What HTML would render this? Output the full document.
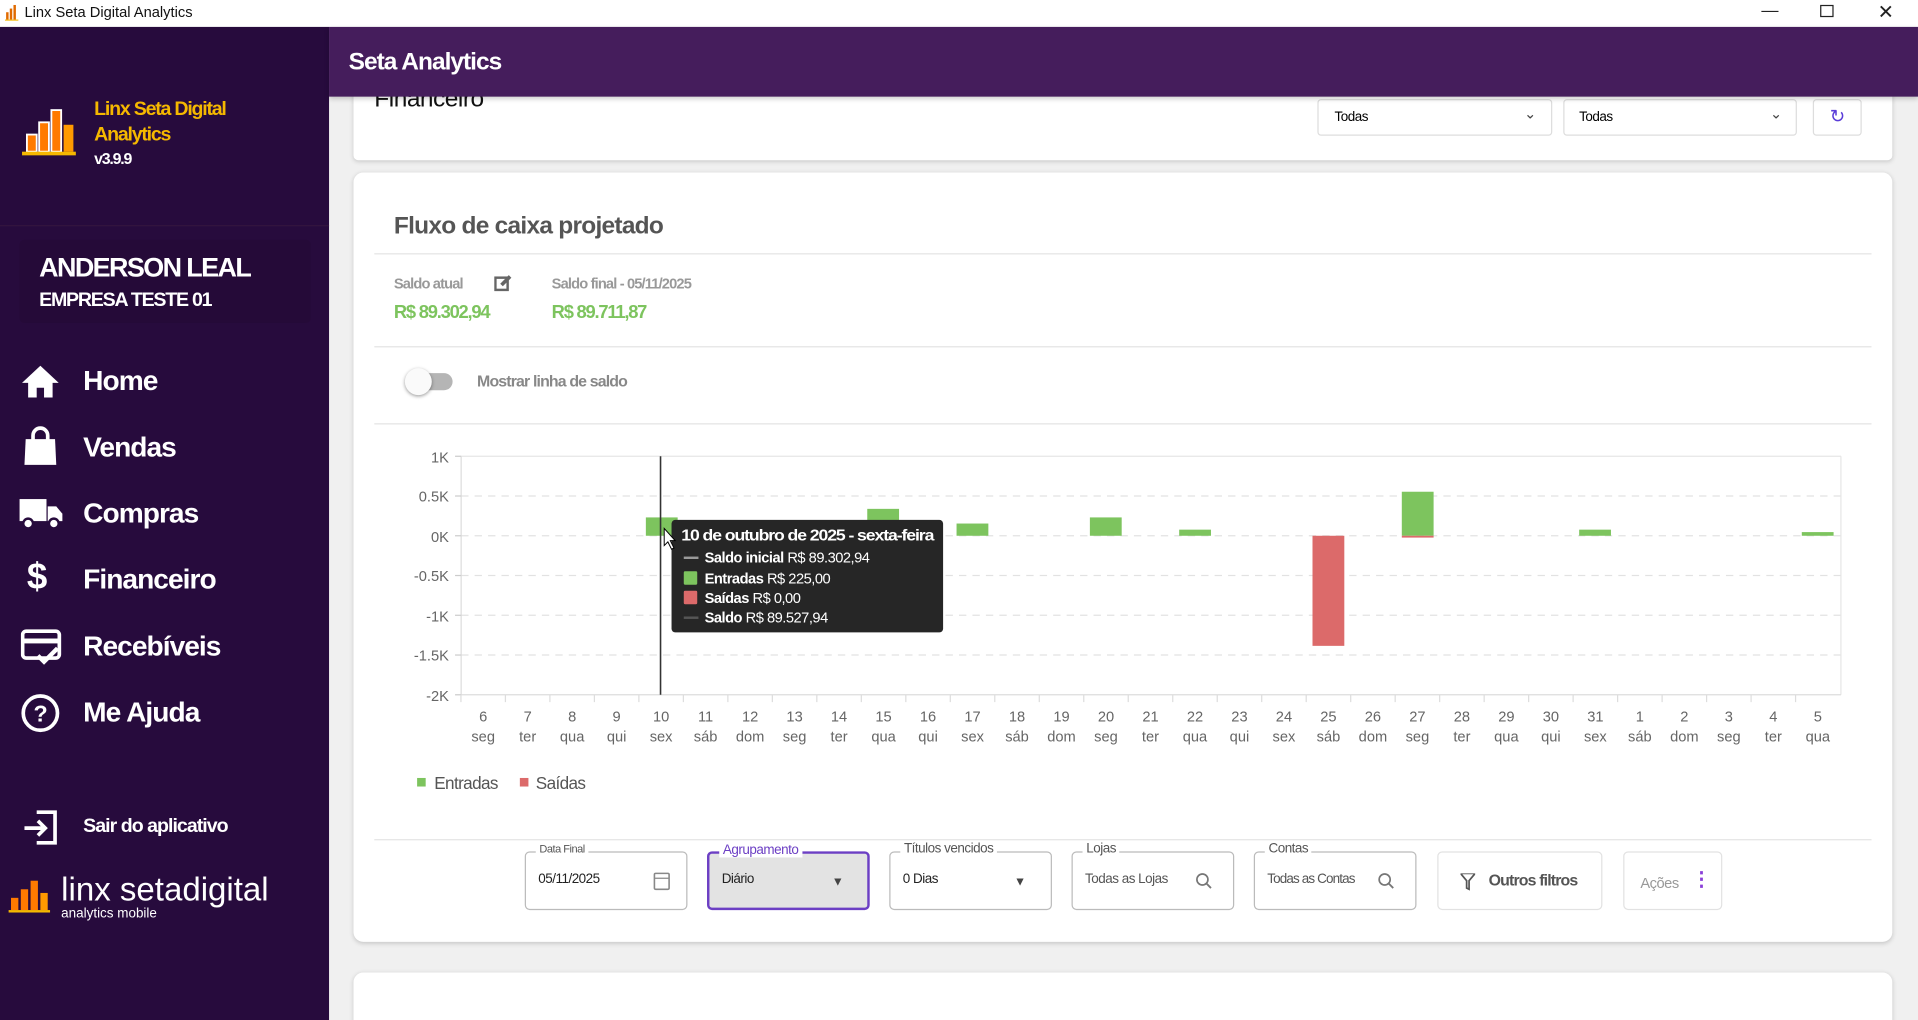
<!DOCTYPE html>
<html><head><meta charset="utf-8"><style>
*{box-sizing:border-box;margin:0;padding:0}
html,body{width:1918px;height:1020px;overflow:hidden;background:#f0f0f0}
#w{position:absolute;left:0;top:0;width:1568px;height:834px;transform:scale(1.22321);transform-origin:0 0;font-family:"Liberation Sans",sans-serif;background:#f0f0f0;overflow:hidden;letter-spacing:-0.4px}
.a{position:absolute;white-space:nowrap}
.card{position:absolute;background:#fff;border-radius:8px;box-shadow:0 1px 4px rgba(0,0,0,.18)}
.fld{position:absolute;top:696px;height:48px;width:133px;border:1px solid #bbb;border-radius:4px;background:#fff}
.fld .l{position:absolute;top:-8px;left:8px;background:#fff;padding:0 3px;font-size:11px;color:#555}
.fld .v{position:absolute;top:16px;left:10px;font-size:11px;color:#222}
.mi{position:absolute;left:68px;color:#fff;font-weight:bold;font-size:23px;letter-spacing:-0.8px}
</style></head><body><div id="w">
<div class="a" style="left:0;top:0;width:1568px;height:22px;background:#fff"></div>
<svg class="a" style="left:4px;top:4px" width="12" height="13"><rect x="1" y="6" width="2" height="6" fill="#e06a00"/><rect x="4" y="3" width="2" height="9" fill="#e06a00"/><rect x="7" y="0" width="2" height="12" fill="#e06a00"/><rect x="0" y="12" width="11" height="1" fill="#f5b800"/></svg>
<div class="a" style="left:20px;top:3px;font-size:12px;color:#111;letter-spacing:0">Linx Seta Digital Analytics</div>
<div class="a" style="left:1440px;top:0;font-size:14px;color:#222">—</div>
<div class="a" style="left:1488px;top:4px;width:11px;height:10px;border:1px solid #222"></div>
<div class="a" style="left:1535px;top:0;font-size:16px;color:#222">✕</div>
<div class="a" style="left:0;top:22px;width:269px;height:812px;background:#270b3d"></div>
<svg class="a" style="left:18px;top:88px" width="46" height="40"><rect x="4" y="22" width="8" height="14" fill="#ff7a00" stroke="#fff" stroke-width="1.5"/><rect x="14" y="12" width="8" height="24" fill="#ff7a00" stroke="#fff" stroke-width="1.5"/><rect x="24" y="2" width="8" height="34" fill="#ff7a00" stroke="#fff" stroke-width="1.5"/><rect x="34" y="14" width="8" height="22" fill="#ff9a00"/><rect x="0" y="36" width="44" height="3" fill="#f5b800"/></svg>
<div class="a" style="left:77px;top:79px;font-size:16px;font-weight:bold;color:#f5b800;line-height:21px;letter-spacing:-1px">Linx Seta Digital<br>Analytics</div>
<div class="a" style="left:77px;top:122px;font-size:13px;font-weight:bold;color:#fff;letter-spacing:-1px">v3.9.9</div>
<div class="a" style="left:0;top:184px;width:269px;height:1px;background:#34163f"></div>
<div class="a" style="left:16px;top:196px;width:238px;height:68px;background:#250a38;border-radius:4px"></div>
<div class="a" style="left:32px;top:206px;font-size:22px;font-weight:bold;color:#fff;letter-spacing:-1.3px">ANDERSON LEAL</div>
<div class="a" style="left:32px;top:237px;font-size:16px;font-weight:bold;color:#fff;letter-spacing:-1px">EMPRESA TESTE 01</div>
<svg class="a" style="left:17px;top:297px" width="32" height="30"><path d="M16 2 L31 16 H26 V28 H19 V20 H13 V28 H6 V16 H1 Z" fill="#fff"/></svg>
<div class="mi" style="top:298px">Home</div>
<svg class="a" style="left:18px;top:348px" width="30" height="34"><path d="M3 11 H27 L28 32 H2 Z" fill="#fff"/><path d="M9 13 V8 A6 6 0 0 1 21 8 V13" stroke="#fff" stroke-width="3" fill="none"/></svg>
<div class="mi" style="top:352px">Vendas</div>
<svg class="a" style="left:15px;top:406px" width="38" height="28"><rect x="1" y="2" width="22" height="18" fill="#fff"/><path d="M24 8 H31 L36 14 V20 H24 Z" fill="#fff"/><circle cx="8" cy="22" r="4" fill="#fff" stroke="#270b3d" stroke-width="2"/><circle cx="29" cy="22" r="4" fill="#fff" stroke="#270b3d" stroke-width="2"/></svg>
<div class="mi" style="top:406px">Compras</div>
<div class="a" style="left:22px;top:455px;font-size:30px;color:#fff;font-weight:bold">$</div>
<div class="mi" style="top:460px">Financeiro</div>
<svg class="a" style="left:17px;top:514px" width="34" height="30"><rect x="1.5" y="2" width="30" height="22" rx="3" fill="none" stroke="#fff" stroke-width="3"/><rect x="1" y="8" width="31" height="4" fill="#fff"/><path d="M14 22 L19 27 L30 16" stroke="#fff" stroke-width="3.5" fill="none"/></svg>
<div class="mi" style="top:515px">Recebíveis</div>
<svg class="a" style="left:17px;top:567px" width="32" height="32"><circle cx="16" cy="16" r="14" fill="none" stroke="#fff" stroke-width="3"/><text x="16" y="23" text-anchor="middle" fill="#fff" font-size="19" font-weight="bold" font-family="Liberation Sans">?</text></svg>
<div class="mi" style="top:569px">Me Ajuda</div>
<svg class="a" style="left:18px;top:662px" width="30" height="30"><path d="M12 2 H27 V27 H12" stroke="#fff" stroke-width="3" fill="none"/><path d="M2 15 H19 M13 9 L19 15 L13 21" stroke="#fff" stroke-width="3" fill="none"/></svg>
<div class="a" style="left:68px;top:667px;font-size:16px;font-weight:bold;color:#fff;letter-spacing:-0.8px">Sair do aplicativo</div>
<svg class="a" style="left:7px;top:718px" width="34" height="30"><rect x="2" y="16" width="6" height="10" fill="#ff7a00"/><rect x="10" y="9" width="6" height="17" fill="#ff7a00"/><rect x="18" y="2" width="6" height="24" fill="#ff7a00"/><rect x="26" y="12" width="6" height="14" fill="#ff9a00"/><rect x="0" y="26" width="34" height="2" fill="#f5b800"/></svg>
<div class="a" style="left:50px;top:712px;font-size:27px;color:#fff;letter-spacing:0">linx <span>seta</span>digital</div>
<div class="a" style="left:50px;top:741px;font-size:11px;color:#fff;letter-spacing:0">analytics mobile</div>
<div class="card" style="left:289px;top:60px;width:1258px;height:71px;border-radius:0 0 4px 4px"></div>
<div class="a" style="left:306px;top:70px;font-size:20px;color:#111">Financeiro</div>
<div class="a" style="left:1077px;top:81px;width:192px;height:30px;border:1px solid #ddd;border-radius:3px;background:#fff"><span class="a" style="left:13px;top:8px;font-size:11px">Todas</span><span class="a" style="left:168px;top:4px;font-size:12px;color:#444">⌄</span></div>
<div class="a" style="left:1278px;top:81px;width:191px;height:30px;border:1px solid #ddd;border-radius:3px;background:#fff"><span class="a" style="left:12px;top:8px;font-size:11px">Todas</span><span class="a" style="left:168px;top:4px;font-size:12px;color:#444">⌄</span></div>
<div class="a" style="left:1482px;top:81px;width:40px;height:30px;border:1px solid #ddd;border-radius:3px;background:#fff;color:#5a3dd8;font-size:15px;text-align:center;line-height:28px">↻</div>
<div class="a" style="left:269px;top:22px;width:1299px;height:57px;background:#451d5c;box-shadow:0 2px 4px rgba(0,0,0,.2)"></div>
<div class="a" style="left:285px;top:40px;font-size:20px;font-weight:bold;color:#fff;letter-spacing:-0.8px">Seta Analytics</div>
<div class="card" style="left:289px;top:141px;width:1258px;height:629px"></div>
<div class="a" style="left:322px;top:174px;font-size:20px;font-weight:bold;color:#555;letter-spacing:-0.6px">Fluxo de caixa projetado</div>
<div class="a" style="left:306px;top:207px;width:1224px;height:1px;background:#e4e4e4"></div>
<div class="a" style="left:322px;top:225px;font-size:12px;font-weight:bold;color:#999;letter-spacing:-0.7px">Saldo atual</div>
<svg class="a" style="left:404px;top:224px" width="15" height="15"><rect x="1" y="3" width="10" height="10" fill="none" stroke="#666" stroke-width="2"/><path d="M6 9 L13 2" stroke="#666" stroke-width="3"/></svg>
<div class="a" style="left:451px;top:225px;font-size:12px;font-weight:bold;color:#999;letter-spacing:-0.7px">Saldo final - 05/11/2025</div>
<div class="a" style="left:322px;top:247px;font-size:15px;font-weight:bold;color:#7dc45e;letter-spacing:-1px">R$ 89.302,94</div>
<div class="a" style="left:451px;top:247px;font-size:15px;font-weight:bold;color:#7dc45e;letter-spacing:-1px">R$ 89.711,87</div>
<div class="a" style="left:306px;top:283px;width:1224px;height:1px;background:#e4e4e4"></div>
<div class="a" style="left:334px;top:305px;width:36px;height:14px;border-radius:7px;background:#b5b5b5"></div>
<div class="a" style="left:331px;top:301px;width:22px;height:22px;border-radius:50%;background:#fafafa;box-shadow:0 1px 3px rgba(0,0,0,.4)"></div>
<div class="a" style="left:390px;top:304px;font-size:13px;font-weight:bold;color:#888;letter-spacing:-0.7px">Mostrar linha de saldo</div>
<div class="a" style="left:306px;top:346px;width:1224px;height:1px;background:#e4e4e4"></div>
<svg class="a" style="left:0;top:0;letter-spacing:0" width="1568" height="834" font-family="Liberation Sans, sans-serif">
<g stroke="#e2e2e2" stroke-dasharray="6,5"><line x1="377" x2="1505" y1="405.5" y2="405.5"/><line x1="377" x2="1505" y1="438" y2="438"/><line x1="377" x2="1505" y1="470.5" y2="470.5"/><line x1="377" x2="1505" y1="503" y2="503"/><line x1="377" x2="1505" y1="535.5" y2="535.5"/></g>
<line x1="377" x2="1505" y1="373" y2="373" stroke="#e6e6e6"/>
<line x1="1505" x2="1505" y1="373" y2="568" stroke="#e6e6e6"/>
<line x1="377" x2="1505" y1="568" y2="568" stroke="#ddd"/>
<line x1="377" x2="377" y1="373" y2="568" stroke="#ddd"/>
<g stroke="#ccc"><line x1="372" x2="377" y1="373" y2="373"/><line x1="372" x2="377" y1="405.5" y2="405.5"/><line x1="372" x2="377" y1="438" y2="438"/><line x1="372" x2="377" y1="470.5" y2="470.5"/><line x1="372" x2="377" y1="503" y2="503"/><line x1="372" x2="377" y1="535.5" y2="535.5"/><line x1="372" x2="377" y1="568" y2="568"/></g>
<g font-size="12" fill="#666" text-anchor="end"><text x="367" y="378">1K</text><text x="367" y="410">0.5K</text><text x="367" y="443">0K</text><text x="367" y="475">-0.5K</text><text x="367" y="508">-1K</text><text x="367" y="540">-1.5K</text><text x="367" y="573">-2K</text></g>
<g fill="#7dc45e">
<rect x="528" y="423" width="26" height="15"/>
<rect x="709" y="416" width="26" height="22"/>
<rect x="782" y="428" width="26" height="10"/>
<rect x="891" y="423" width="26" height="15"/>
<rect x="964" y="433" width="26" height="5"/>
<rect x="1146" y="402" width="26" height="36"/>
<rect x="1291" y="433" width="26" height="5"/>
<rect x="1473" y="435" width="26" height="3"/>
</g>
<rect x="1073" y="438" width="26" height="90" fill="#dc6a6a"/>
<rect x="1146" y="438" width="26" height="1.5" fill="#dc6a6a"/>
<line x1="540" x2="540" y1="373" y2="568" stroke="#333" stroke-width="1.3"/>
<g id="ticks" stroke="#ddd"></g>
<g font-size="12" fill="#666" text-anchor="middle" id="xl"></g>
<rect x="549" y="425" width="222" height="92" rx="3" fill="#262626"/>
<text x="557" y="442" fill="#fff" font-size="13" font-weight="bold" letter-spacing="-0.8" textLength="206" lengthAdjust="spacingAndGlyphs">10 de outubro de 2025 - sexta-feira</text>
<g font-size="12" fill="#fff" letter-spacing="-0.4">
<line x1="559" x2="571" y1="456" y2="456" stroke="#999" stroke-width="2"/><text x="576" y="460"><tspan font-weight="bold">Saldo inicial</tspan>  R$ 89.302,94</text>
<rect x="559" y="467" width="11" height="11" rx="1" fill="#7dc45e"/><text x="576" y="477"><tspan font-weight="bold">Entradas</tspan>  R$ 225,00</text>
<rect x="559" y="483" width="11" height="11" rx="1" fill="#dc6a6a"/><text x="576" y="493"><tspan font-weight="bold">Saídas</tspan>  R$ 0,00</text>
<line x1="559" x2="571" y1="505" y2="505" stroke="#555" stroke-width="2"/><text x="576" y="509"><tspan font-weight="bold">Saldo</tspan>  R$ 89.527,94</text>
</g>
<path d="M543 432 L543 446 L546 443 L549 449 L551 448 L548 442 L552 442 Z" fill="#fff" stroke="#000" stroke-width=".8"/>
<rect x="341" y="636" width="7" height="7" fill="#7dc45e"/><text x="355" y="645" font-size="14" fill="#555" letter-spacing="-0.5">Entradas</text>
<rect x="425" y="636" width="7" height="7" fill="#dc6a6a"/><text x="438" y="645" font-size="14" fill="#555" letter-spacing="-0.5">Saídas</text>
</svg>
<div class="a" style="left:306px;top:686px;width:1224px;height:1px;background:#e4e4e4"></div>
<div class="fld" style="left:429px"><span class="l" style="font-size:9px">Data Final</span><span class="v">05/11/2025</span><svg class="a" style="left:104px;top:15px" width="14" height="16"><rect x="1" y="2" width="12" height="13" rx="1" fill="none" stroke="#888" stroke-width="1.3"/><line x1="1" x2="13" y1="6" y2="6" stroke="#888"/></svg></div>
<div class="fld" style="left:578px;border:2px solid #6c3fc4;background:#e3e3e3"><span class="l" style="color:#6c3fc4;background:#fff;font-size:11px;top:-9px">Agrupamento</span><span class="v" style="top:15px">Diário</span><span class="a" style="left:100px;top:18px;font-size:10px;color:#444">▼</span></div>
<div class="fld" style="left:727px"><span class="l" style="font-size:11px;top:-9px">Títulos vencidos</span><span class="v">0 Dias</span><span class="a" style="left:101px;top:19px;font-size:10px;color:#444">▼</span></div>
<div class="fld" style="left:876px"><span class="l" style="font-size:11px;top:-9px">Lojas</span><span class="v" style="color:#555">Todas as Lojas</span><svg class="a" style="left:100px;top:16px" width="14" height="14"><circle cx="6" cy="6" r="4.5" fill="none" stroke="#777" stroke-width="1.4"/><line x1="9" y1="9" x2="13" y2="13" stroke="#777" stroke-width="1.5"/></svg></div>
<div class="fld" style="left:1025px"><span class="l" style="font-size:11px;top:-9px">Contas</span><span class="v" style="color:#555;letter-spacing:-0.7px">Todas as Contas</span><svg class="a" style="left:100px;top:16px" width="14" height="14"><circle cx="6" cy="6" r="4.5" fill="none" stroke="#777" stroke-width="1.4"/><line x1="9" y1="9" x2="13" y2="13" stroke="#777" stroke-width="1.5"/></svg></div>
<div class="fld" style="left:1175px;width:135px;border-color:#e2e2e2"><svg class="a" style="left:18px;top:17px" width="12" height="14"><path d="M0 0 H12 L7 6 V13 L5 12 V6 Z" fill="none" stroke="#555" stroke-width="1.4"/></svg><span class="a" style="left:41px;top:15px;font-size:13px;font-weight:bold;color:#555;letter-spacing:-0.7px">Outros filtros</span></div>
<div class="fld" style="left:1327px;width:81px;border-color:#e2e2e2"><span class="a" style="left:13px;top:18px;font-size:12px;color:#999">Ações</span><span class="a" style="left:55px;top:12px;font-size:16px;font-weight:bold;color:#8a3fd8">⋮</span></div>
<div class="card" style="left:289px;top:795px;width:1258px;height:60px"></div>
<script>
var t=document.getElementById('ticks'),xl=document.getElementById('xl'),ns='http://www.w3.org/2000/svg';
var d=[6,7,8,9,10,11,12,13,14,15,16,17,18,19,20,21,22,23,24,25,26,27,28,29,30,31,1,2,3,4,5];
var w=['seg','ter','qua','qui','sex','sáb','dom'];
for(var i=0;i<31;i++){var c=395+36.37*i;
var l=document.createElementNS(ns,'line');var x=c-18.18;l.setAttribute('x1',x);l.setAttribute('x2',x);l.setAttribute('y1',568);l.setAttribute('y2',574);t.appendChild(l);
var a=document.createElementNS(ns,'text');a.setAttribute('x',c);a.setAttribute('y',590);a.textContent=d[i];xl.appendChild(a);
var b=document.createElementNS(ns,'text');b.setAttribute('x',c);b.setAttribute('y',606);b.textContent=w[i%7];xl.appendChild(b);}
</script>
</div></body></html>
